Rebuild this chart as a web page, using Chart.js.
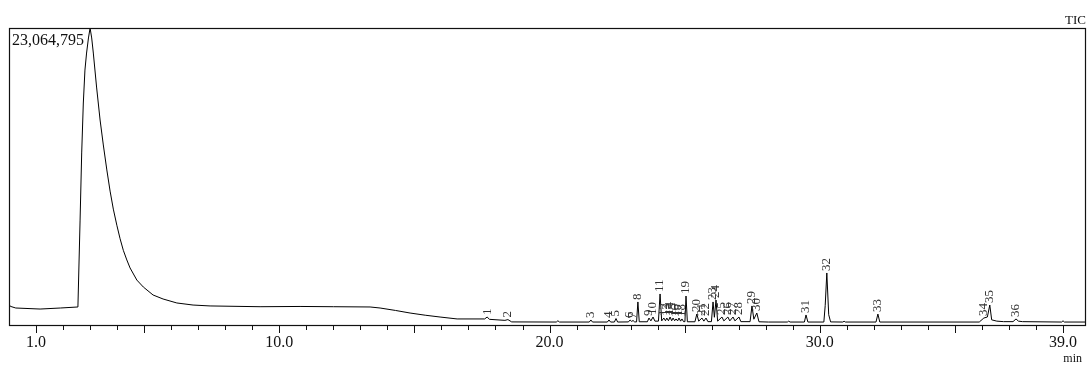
<!DOCTYPE html>
<html>
<head>
<meta charset="utf-8">
<script src="https://cdn.jsdelivr.net/npm/chart.js@4.4.1/dist/chart.umd.min.js"></script>
<style>
  html, body { margin: 0; padding: 0; background: #fff; }
  #wrap { width: 1088px; height: 367px; }
</style>
</head>
<body>
<div id="wrap"><canvas id="tic"></canvas></div>
<script>
// retention time (min) and intensity
const traceTime = [
  0.00, 0.05, 0.25, 1.15, 1.90, 2.55, 2.63, 2.69, 2.75, 2.81, 2.87, 2.94, 3.00, 3.06, 3.12, 3.24, 3.37,
  3.49, 3.62, 3.74, 3.86, 3.99, 4.11, 4.23, 4.36, 4.48, 4.73, 4.97, 5.33, 5.70, 6.21, 6.81,
  7.44, 9.29, 10.77, 12.00, 13.36, 13.73, 14.30, 14.84, 15.40, 15.95, 16.58,
  17.60, 17.69, 17.78, 18.35, 18.46, 18.60, 20.25, 20.31, 20.37, 21.47, 21.53, 21.59,
  22.14, 22.20, 22.26, 22.40, 22.46, 22.52, 22.92, 22.98, 23.04, 23.09, 23.15, 23.22, 23.27, 23.32,
  23.62, 23.68, 23.75, 23.83, 23.90, 24.03, 24.09, 24.15, 24.23, 24.29, 24.34, 24.40, 24.46, 24.52,
  24.57, 24.63, 24.68, 24.74, 24.79, 24.85, 24.90, 24.96, 25.01, 25.05, 25.10, 25.38, 25.45, 25.52,
  25.64, 25.71, 25.79, 25.86, 25.99, 26.05, 26.10, 26.16, 26.22, 26.38, 26.45, 26.60, 26.67,
  26.79, 26.86, 27.01, 27.08, 27.42, 27.49, 27.56, 27.67, 27.75, 28.10, 28.80, 28.85, 28.90,
  29.43, 29.49, 29.56, 30.15, 30.20, 30.26, 30.33, 30.40, 30.85, 30.90, 30.95, 32.08, 32.15, 32.22,
  35.90, 36.07, 36.20, 36.29, 36.36, 36.55, 36.80, 37.15, 37.26, 37.35, 37.50, 38.95, 39.00, 39.05, 39.85
];
const traceSignal = [
  1600000, 1450000, 1320000, 1240000, 1320000, 1400000, 8150000, 13360000, 17240000, 19800000, 21120000, 22290000, 23064795, 22290000, 21120000, 18480000, 15920000,
  13980000, 12040000, 10400000, 9000000, 7750000, 6700000, 5800000, 5050000, 4430000, 3490000, 2950000, 2330000, 2020000, 1710000, 1550000,
  1480000, 1420000, 1440000, 1420000, 1400000, 1320000, 1130000, 930000, 760000, 620000, 470000,
  470000, 620000, 440000, 360000, 420000, 240000, 230000, 330000, 230000, 230000, 390000, 230000,
  230000, 390000, 230000, 230000, 500000, 230000, 240000, 390000, 280000, 350000, 240000, 240000, 1790000, 250000,
  250000, 540000, 320000, 620000, 300000, 300000, 2410000, 320000, 540000, 330000, 540000, 330000, 620000, 330000,
  540000, 330000, 470000, 320000, 540000, 300000, 470000, 260000, 260000, 2250000, 250000, 250000, 850000, 300000,
  540000, 300000, 540000, 260000, 260000, 1790000, 600000, 1940000, 300000, 620000, 320000, 620000, 320000,
  620000, 320000, 620000, 260000, 260000, 1480000, 450000, 930000, 250000, 230000, 230000, 300000, 230000,
  230000, 780000, 230000, 230000, 1500000, 4040000, 800000, 240000, 230000, 290000, 230000, 230000, 850000, 230000,
  230000, 540000, 620000, 1550000, 400000, 300000, 260000, 260000, 470000, 300000, 260000, 230000, 330000, 230000, 230000
];

// peak numbers and the point each label stands on
const peakNo = ["1","2","3","4","5","6","7","8","9","10","11","12","13","14","15","16","17","18",
  "19","20","21","22","23","24","25","26","27","28","29","30","31","32","33","34","35","36"];
const peakTime = [17.69, 18.46, 21.53, 22.20, 22.46, 22.98, 23.09, 23.27, 23.68, 23.83, 24.09, 24.23,
  24.34, 24.46, 24.57, 24.68, 24.79, 24.90, 25.05, 25.45, 25.64, 25.79, 26.05, 26.16, 26.38, 26.60,
  26.79, 27.01, 27.49, 27.67, 29.49, 30.26, 32.15, 36.07, 36.29, 37.26];
const peakTop = [620000, 420000, 390000, 390000, 500000, 390000, 350000, 1790000, 540000, 620000, 2410000, 540000,
  540000, 620000, 540000, 470000, 540000, 470000, 2250000, 850000, 540000, 540000, 1790000, 1940000, 620000, 620000,
  620000, 620000, 1480000, 930000, 780000, 4040000, 850000, 540000, 1550000, 470000];

const tickTimes = [];
for (let t = 1; t <= 39; t++) tickTimes.push(t);
const labelTimes = [1, 10, 20, 30, 39];
const longTicks = [1, 5, 10, 15, 20, 25, 30, 35, 39];
const maxSignal = 23064795;

const serif = '"Liberation Serif", "DejaVu Serif", serif';

const decor = {
  id: "decor",
  afterDraw(chart) {
    const ctx = chart.ctx;
    const a = chart.chartArea;
    const xs = chart.scales.x;
    const ys = chart.scales.y;
    ctx.save();
    // frame
    ctx.strokeStyle = "#111";
    ctx.lineWidth = 1.2;
    ctx.strokeRect(a.left + 0.5, a.top + 0.5, a.right - a.left - 1, a.bottom - a.top);
    // ticks
    ctx.lineWidth = 1;
    tickTimes.forEach(t => {
      const px = Math.round(xs.getPixelForValue(t)) + 0.5;
      const len = longTicks.includes(t) ? 8 : 5;
      ctx.beginPath();
      ctx.moveTo(px, a.bottom);
      ctx.lineTo(px, a.bottom + len);
      ctx.stroke();
    });
    // intensity of the tallest peak
    ctx.fillStyle = "#111";
    ctx.font = "16px " + serif;
    ctx.textAlign = "left";
    ctx.textBaseline = "top";
    ctx.fillText("23,064,795", a.left + 3, a.top + 5);
    // TIC and unit
    ctx.font = "13px " + serif;
    ctx.textAlign = "right";
    ctx.textBaseline = "alphabetic";
    ctx.fillText("TIC", a.right, a.top - 4);
    ctx.font = "12px " + serif;
    ctx.fillText("min", a.right - 4, 362);
    // peak numbers, vertical
    ctx.font = "13px " + serif;
    ctx.fillStyle = "#333";
    peakNo.forEach((n, i) => {
      const px = xs.getPixelForValue(peakTime[i]);
      const py = ys.getPixelForValue(peakTop[i]) - 2;
      ctx.save();
      ctx.translate(px, py);
      ctx.rotate(-Math.PI / 2);
      ctx.textAlign = "left";
      ctx.textBaseline = "middle";
      ctx.fillText(n, 0, 0);
      ctx.restore();
    });
    ctx.restore();
  }
};

new Chart(document.getElementById("tic"), {
  type: "line",
  data: {
    datasets: [{
      data: traceTime.map((t, i) => ({ x: t, y: traceSignal[i] })),
      borderColor: "#000",
      borderWidth: 1,
      pointRadius: 0,
      tension: 0
    }]
  },
  options: {
    responsive: true,
    maintainAspectRatio: false,
    animation: false,
    parsing: false,
    layout: { padding: { left: 9, right: 2, top: 28, bottom: 0 } },
    plugins: { legend: { display: false }, tooltip: { enabled: false } },
    scales: {
      x: {
        type: "linear",
        min: 0,
        max: 39.85,
        afterBuildTicks: scale => { scale.ticks = tickTimes.map(v => ({ value: v })); },
        afterFit: scale => { scale.height = 42; },
        grid: { display: false },
        border: { display: false },
        ticks: {
          autoSkip: false,
          maxRotation: 0,
          padding: 0,
          color: "#111",
          font: { family: serif, size: 16 },
          callback: v => labelTimes.includes(v) ? v.toFixed(1) : ""
        }
      },
      y: {
        display: false,
        min: 0,
        max: maxSignal
      }
    }
  },
  plugins: [decor]
});
</script>
</body>
</html>
